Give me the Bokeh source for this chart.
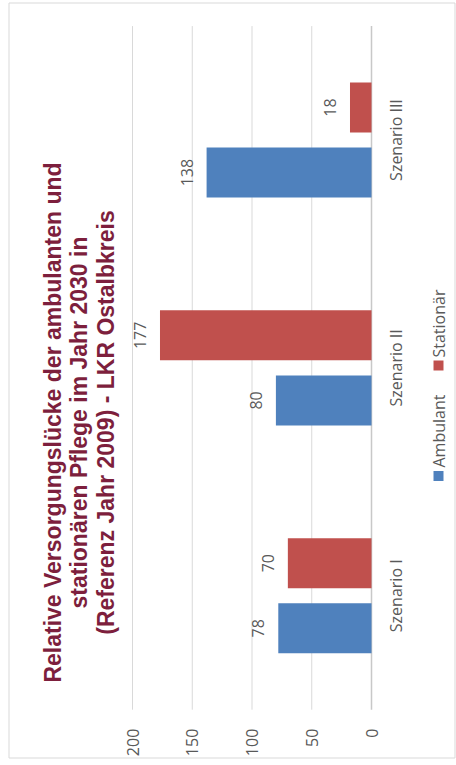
import math
from bokeh.plotting import figure
from bokeh.models import Range1d, ColumnDataSource
from bokeh.core.properties import value
from bokeh.embed import file_html
from bokeh.resources import INLINE

# ---- data ----
categories = ["Szenario I", "Szenario II", "Szenario III"]
ambulant = [78, 80, 138]
stationaer = [70, 177, 18]
series_names = ["Ambulant", "Stationär"]
ticks = [0, 50, 100, 150, 200]
title_lines = [
    "Relative Versorgungslücke der ambulanten und",
    "stationären Pflege im Jahr 2030 in",
    "(Referenz Jahr 2009) - LKR Ostalbkreis",
]

# ---- colours / fonts ----
BLUE = "#4F81BD"
RED = "#C0504D"
GRID = "#D9D9D9"
TXT = "#595959"
TITLE_COLOR = "#7D1F3D"
FONT = value("Open Sans")

# ---- layout (the chart is rotated 90 deg counter-clockwise) ----
W, H = 456, 765
PAGE = 0
ZERO_X = 371 - PAGE          # canvas px of value 0
PX_PER_VAL = 1.195
BASE_Y = 709.2 - PAGE        # canvas px of category-axis start
PX_PER_CAT = 227.87

x_start = ZERO_X / PX_PER_VAL
x_end = -(W - ZERO_X) / PX_PER_VAL
y_start = -(H - BASE_Y) / PX_PER_CAT
y_end = BASE_Y / PX_PER_CAT


def dx(px):
    return (ZERO_X - (px - PAGE)) / PX_PER_VAL


def dy(py):
    return (BASE_Y - (py - PAGE)) / PX_PER_CAT


ROT = math.pi / 2
OFF = 0.1428
BH = 0.2194

p = figure(width=W, height=H, x_range=Range1d(x_start, x_end),
           y_range=Range1d(y_start, y_end), x_axis_type=None, y_axis_type=None,
           toolbar_location=None, output_backend="svg", min_border=0, title=None)
p.outline_line_color = None
p.background_fill_color = "white"
p.border_fill_color = "white"

# chart-area border
p.quad(left=[dx(8.5)], right=[dx(454.5)], top=[dy(2.5)], bottom=[dy(757.5)],
       fill_color=None, line_color=GRID, line_width=1)

ncat = len(categories)
pos = [i + 0.5 for i in range(ncat)]

# gridlines (value axis) and category axis line
grid_ticks = [t for t in ticks if t != 0]
p.segment(x0=grid_ticks, y0=[0] * len(grid_ticks), x1=grid_ticks, y1=[ncat] * len(grid_ticks),
          line_color=GRID, line_width=1)
p.segment(x0=[0], y0=[0], x1=[0], y1=[ncat], line_color="#C8C8C8", line_width=1.5)

src = ColumnDataSource(dict(
    pos=pos,
    zero=[0] * ncat,
    cat=categories,
    y_amb=[c - OFF for c in pos],
    y_sta=[c + OFF for c in pos],
    amb=ambulant,
    sta=stationaer,
    amb_t=[str(v) for v in ambulant],
    sta_t=[str(v) for v in stationaer],
))

p.hbar(y="y_amb", left=0, right="amb", height=BH, source=src, fill_color=BLUE, line_color=None)
p.hbar(y="y_sta", left=0, right="sta", height=BH, source=src, fill_color=RED, line_color=None)

lbl = dict(angle=ROT, text_font=FONT, text_font_size="16px", text_color=TXT)

# data labels
p.text(x="amb", y="y_amb", text="amb_t", source=src, x_offset=-20,
       text_align="center", text_baseline="middle", **lbl)
p.text(x="sta", y="y_sta", text="sta_t", source=src, x_offset=-20,
       text_align="center", text_baseline="middle", **lbl)

# category labels
p.text(x="zero", y="pos", text="cat", source=src, x_offset=24,
       text_align="center", text_baseline="middle", **lbl)

# value tick labels
p.text(x=ticks, y=[0] * len(ticks), text=[str(t) for t in ticks], y_offset=19,
       text_align="right", text_baseline="middle", **lbl)

# legend
p.scatter(x=[dx(438)] * 2, y=[dy(475.5), dy(365)], marker="square", size=10,
          fill_color=[BLUE, RED], line_color=None)
p.text(x=[dx(438)] * 2, y=[dy(467), dy(357)], text=series_names,
       text_align="left", text_baseline="middle", **lbl)

# title
p.text(x=[dx(52), dx(78.5), dx(105)], y=[dy(422)] * 3, text=title_lines, angle=ROT,
       text_align="center", text_baseline="alphabetic", text_font=value("Liberation Sans"),
       text_font_style="bold", text_font_size="23px", text_color=TITLE_COLOR)

open("out.html", "w").write(file_html(p, INLINE))
